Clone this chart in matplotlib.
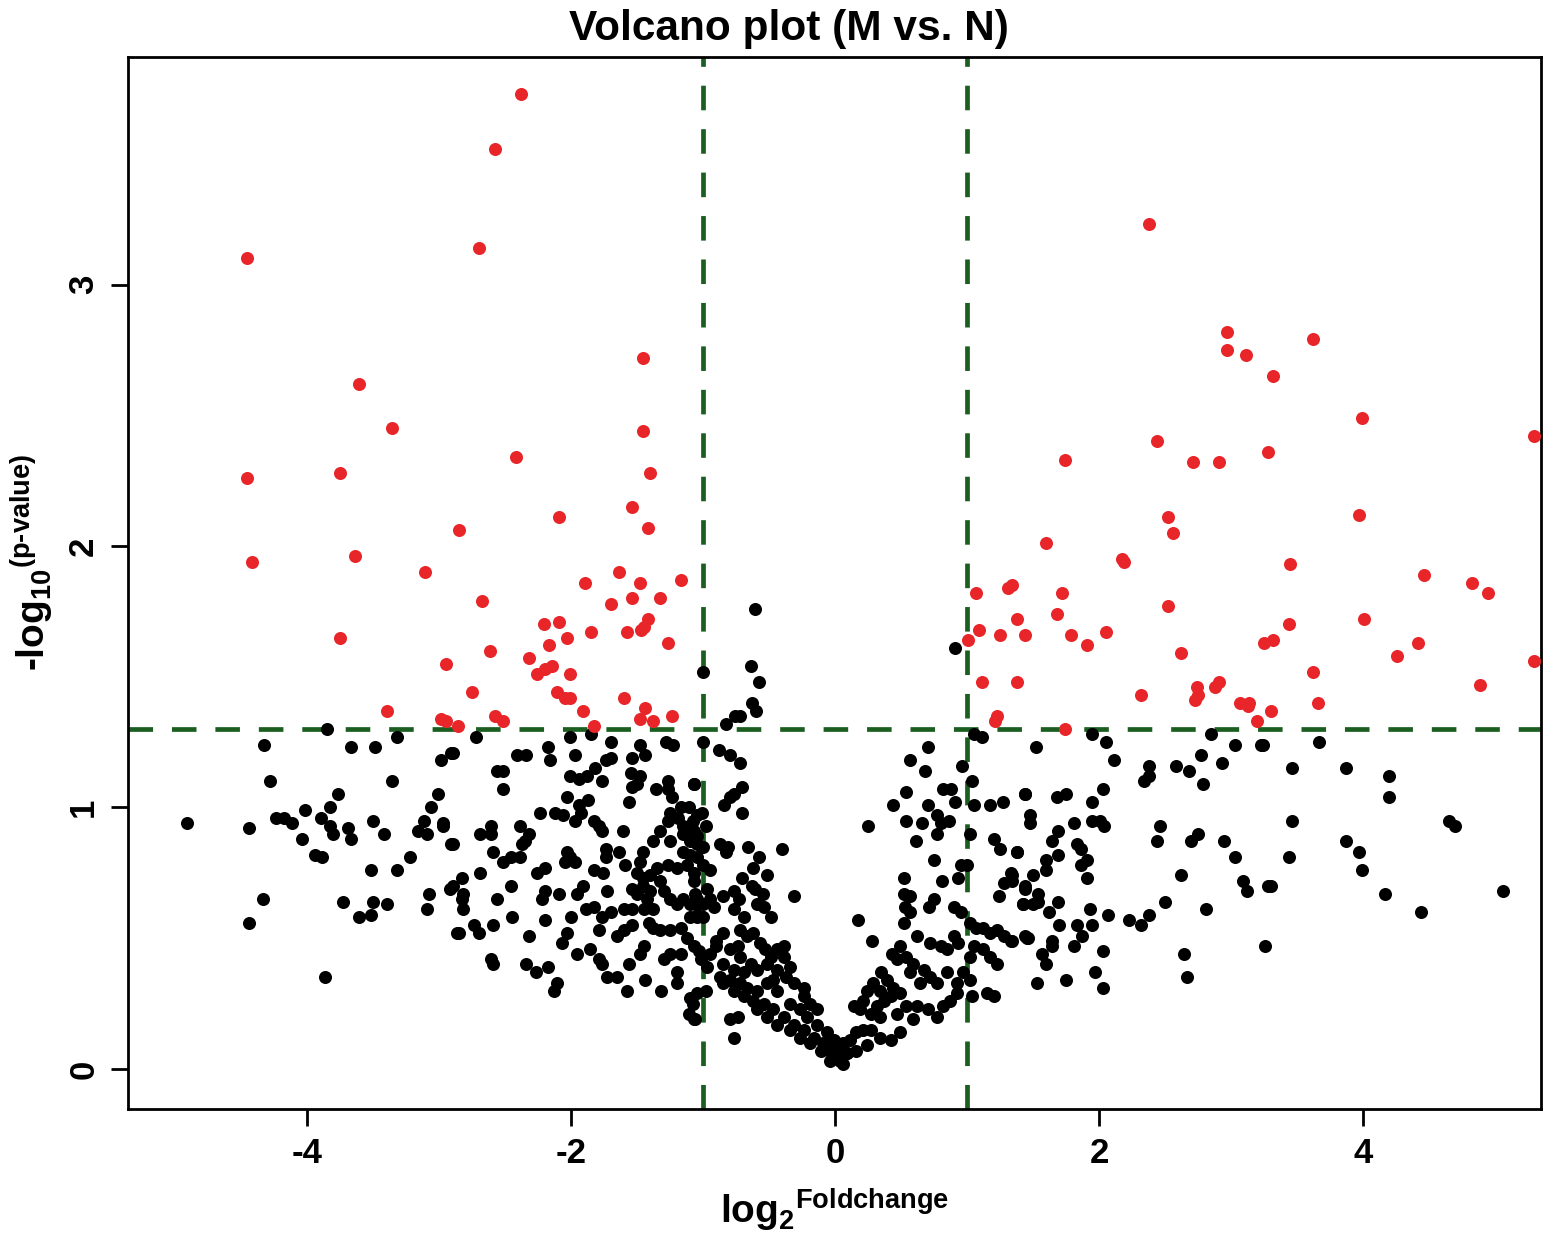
import matplotlib
matplotlib.use("Agg")
from matplotlib import pyplot as plt

plt.rcParams['font.family'] = ['Liberation Sans', 'DejaVu Sans']
plt.rcParams['axes.unicode_minus'] = False
plt.rcParams['mathtext.fontset'] = 'custom'
plt.rcParams['mathtext.rm'] = 'Liberation Sans:bold'
plt.rcParams['mathtext.bf'] = 'Liberation Sans:bold'

# thresholds
FC_CUT = 1.0
P_CUT = 1.301

# significant, down-regulated (log2FC, -log10 p)
down_pts = [
    (-2.38, 3.73), (-2.58, 3.52), (-2.70, 3.14), (-4.46, 3.10), (-1.46, 2.72),
    (-3.61, 2.62), (-3.36, 2.45), (-1.46, 2.44), (-2.42, 2.34), (-4.46, 2.26),
    (-3.75, 2.28), (-1.40, 2.28), (-1.54, 2.15), (-2.09, 2.11), (-2.85, 2.06),
    (-1.42, 2.07), (-4.42, 1.94), (-3.64, 1.96), (-3.11, 1.90), (-1.64, 1.90),
    (-1.17, 1.87), (-1.90, 1.86), (-1.48, 1.86), (-1.54, 1.80), (-1.33, 1.80),
    (-2.68, 1.79), (-1.70, 1.78), (-2.21, 1.70), (-2.09, 1.71), (-1.42, 1.72),
    (-1.45, 1.69), (-1.47, 1.68), (-1.85, 1.67), (-1.58, 1.67), (-3.75, 1.65),
    (-2.03, 1.65), (-2.17, 1.62), (-1.27, 1.63), (-2.62, 1.60), (-2.32, 1.57),
    (-2.95, 1.55), (-2.15, 1.54), (-2.20, 1.53), (-2.26, 1.51), (-2.01, 1.51),
    (-2.75, 1.44), (-2.11, 1.44), (-2.05, 1.42), (-2.01, 1.42), (-1.60, 1.42),
    (-3.40, 1.37), (-1.91, 1.37), (-1.44, 1.38), (-1.24, 1.35), (-2.99, 1.34),
    (-2.95, 1.33), (-2.58, 1.35), (-2.52, 1.33), (-1.48, 1.34), (-1.38, 1.33),
    (-2.86, 1.31), (-1.83, 1.31),
]

# significant, up-regulated
up_pts = [
    (2.38, 3.23), (2.97, 2.82), (2.97, 2.75), (3.11, 2.73), (3.62, 2.79),
    (3.32, 2.65), (3.99, 2.49), (5.30, 2.42), (2.44, 2.40), (1.74, 2.33),
    (2.71, 2.32), (2.91, 2.32), (3.28, 2.36), (3.97, 2.12), (2.52, 2.11),
    (2.56, 2.05), (1.60, 2.01), (2.17, 1.95), (2.19, 1.94), (3.45, 1.93),
    (4.46, 1.89), (4.83, 1.86), (4.95, 1.82), (1.07, 1.82), (1.31, 1.84),
    (1.34, 1.85), (1.72, 1.82), (1.38, 1.72), (1.68, 1.74), (2.52, 1.77),
    (4.01, 1.72), (1.09, 1.68), (1.25, 1.66), (1.44, 1.66), (1.79, 1.66),
    (1.91, 1.62), (2.05, 1.67), (3.44, 1.70), (3.25, 1.63), (3.32, 1.64),
    (1.01, 1.64), (2.62, 1.59), (4.42, 1.63), (4.26, 1.58), (5.30, 1.56),
    (3.62, 1.52), (1.11, 1.48), (1.38, 1.48), (4.89, 1.47), (2.91, 1.48),
    (2.88, 1.46), (2.74, 1.46), (2.75, 1.43), (2.73, 1.41), (2.32, 1.43),
    (3.07, 1.40), (3.14, 1.40), (3.13, 1.39), (3.30, 1.37), (3.66, 1.40),
    (1.23, 1.35), (1.21, 1.33), (3.20, 1.33), (1.74, 1.30),
]

# not significant
ns_pts = [
    # far left
    (-3.85, 1.30), (-4.33, 1.24), (-3.67, 1.23), (-3.49, 1.23), (-3.32, 1.27),
    (-2.91, 1.21), (-2.99, 1.18), (-4.28, 1.10), (-3.36, 1.10), (-3.77, 1.05),
    (-3.01, 1.05), (-3.83, 1.00), (-3.06, 1.00), (-4.02, 0.99), (-4.91, 0.94),
    (-4.44, 0.92), (-4.24, 0.96), (-4.18, 0.96), (-4.12, 0.94), (-3.90, 0.96),
    (-3.83, 0.93), (-3.81, 0.90), (-3.69, 0.92), (-3.67, 0.88), (-4.04, 0.88),
    (-3.50, 0.95), (-3.42, 0.90), (-3.12, 0.95), (-3.16, 0.91), (-3.09, 0.90),
    (-2.97, 0.94), (-2.97, 0.93), (-2.91, 0.86), (-3.94, 0.82), (-3.89, 0.81),
    (-3.22, 0.81), (-3.52, 0.76), (-3.32, 0.76), (-2.92, 0.69), (-3.08, 0.67),
    (-4.34, 0.65), (-3.73, 0.64), (-3.50, 0.64), (-3.40, 0.63), (-3.09, 0.61),
    (-3.61, 0.58), (-3.52, 0.59), (-4.44, 0.56), (-2.87, 0.52), (-3.87, 0.35),
    # left middle
    (-2.72, 1.27), (-2.90, 1.21), (-2.41, 1.20), (-2.34, 1.20), (-2.18, 1.23),
    (-2.16, 1.18), (-2.01, 1.27), (-1.85, 1.28), (-1.97, 1.20), (-1.70, 1.25),
    (-1.74, 1.18), (-1.70, 1.19), (-1.48, 1.24), (-1.44, 1.20), (-1.54, 1.19),
    (-1.28, 1.25), (-1.23, 1.24), (-2.56, 1.14), (-2.52, 1.14), (-2.52, 1.07),
    (-2.01, 1.12), (-1.94, 1.11), (-1.88, 1.12), (-1.82, 1.15), (-1.77, 1.10),
    (-1.55, 1.13), (-1.48, 1.12), (-1.54, 1.08), (-1.50, 1.09), (-1.36, 1.07),
    (-1.27, 1.10), (-1.27, 1.07), (-1.07, 1.09), (-1.56, 1.02), (-1.24, 1.04),
    (-2.03, 1.04), (-1.87, 1.03), (-1.94, 1.01), (-2.24, 0.98), (-2.12, 0.98),
    (-2.06, 0.97), (-1.97, 0.95), (-1.93, 0.98), (-1.83, 0.95), (-1.79, 0.93),
    (-1.77, 0.91), (-1.61, 0.91), (-1.25, 0.98), (-1.17, 1.00), (-1.11, 1.00),
    (-1.27, 0.95), (-1.19, 0.96), (-1.15, 0.93), (-1.05, 0.97), (-2.69, 0.90),
    (-2.61, 0.93), (-2.61, 0.90), (-2.39, 0.93), (-2.32, 0.90), (-2.35, 0.87),
    (-2.37, 0.86), (-2.90, 0.86), (-1.38, 0.87), (-1.33, 0.91), (-1.25, 0.87),
    (-1.15, 0.90), (-1.10, 0.87), (-1.05, 0.86), (-1.15, 0.83), (-1.10, 0.82),
    (-1.05, 0.81), (-2.59, 0.83), (-2.52, 0.79), (-2.46, 0.81), (-2.39, 0.81),
    (-2.03, 0.83), (-2.01, 0.81), (-1.97, 0.79), (-2.05, 0.79), (-1.74, 0.84),
    (-1.74, 0.81), (-1.64, 0.83), (-1.59, 0.78), (-1.46, 0.83), (-1.48, 0.79),
    (-1.50, 0.75), (-1.46, 0.73), (-1.40, 0.74), (-1.35, 0.77), (-1.27, 0.78),
    (-1.20, 0.77), (-1.12, 0.78), (-1.07, 0.75), (-1.00, 0.78), (-2.69, 0.75),
    (-2.26, 0.75), (-2.20, 0.77), (-1.83, 0.76), (-1.76, 0.75), (-2.83, 0.73),
    (-2.90, 0.70), (-2.82, 0.67), (-2.83, 0.65), (-2.46, 0.70), (-2.56, 0.65),
    (-2.20, 0.68), (-2.22, 0.65), (-2.09, 0.67), (-1.96, 0.67), (-1.91, 0.70),
    (-1.73, 0.68), (-1.54, 0.69), (-1.50, 0.67), (-1.46, 0.70), (-1.43, 0.65),
    (-1.40, 0.68), (-1.33, 0.72), (-1.30, 0.68), (-1.25, 0.65), (-1.20, 0.63),
    (-1.15, 0.65), (-1.10, 0.63), (-1.05, 0.65), (-1.00, 0.63), (-2.82, 0.61),
    (-1.89, 0.61), (-1.83, 0.62), (-1.60, 0.61), (-1.54, 0.61), (-1.45, 0.61),
    (-1.38, 0.61), (-1.05, 0.59), (-1.00, 0.58), (-2.45, 0.58), (-2.20, 0.57),
    (-2.00, 0.58), (-1.77, 0.58), (-1.70, 0.60), (-1.41, 0.56), (-1.38, 0.54),
    (-1.33, 0.53), (-1.25, 0.53), (-1.17, 0.54), (-2.74, 0.55), (-2.70, 0.52),
    (-2.85, 0.52), (-2.59, 0.55), (-2.32, 0.51), (-2.03, 0.52), (-2.07, 0.48),
    (-1.79, 0.53), (-1.65, 0.51), (-1.60, 0.53), (-1.54, 0.55), (-1.12, 0.50),
    (-1.07, 0.47), (-1.03, 0.45), (-1.45, 0.47), (-1.48, 0.44), (-1.25, 0.44),
    (-1.17, 0.44), (-1.30, 0.42), (-1.96, 0.44), (-1.86, 0.46), (-1.79, 0.42),
    (-1.77, 0.40), (-2.61, 0.42), (-2.59, 0.40), (-2.34, 0.40), (-2.27, 0.37),
    (-2.18, 0.39), (-1.56, 0.40), (-1.20, 0.37), (-1.20, 0.33), (-1.73, 0.35),
    (-1.65, 0.35), (-1.44, 0.34), (-2.11, 0.33), (-2.13, 0.30), (-1.58, 0.30),
    (-1.32, 0.30), (-1.10, 0.27), (-1.11, 0.21), (-1.06, 0.19), (-0.98, 0.30),
    # near centre, left arm
    (-0.61, 1.76), (-0.64, 1.54), (-0.58, 1.48), (-0.63, 1.40), (-0.60, 1.37),
    (-0.72, 1.35), (-0.76, 1.35), (-0.83, 1.32), (-1.00, 1.52), (-1.00, 1.25),
    (-0.88, 1.22), (-0.80, 1.20), (-0.72, 1.17), (-1.07, 1.09), (-0.71, 1.08),
    (-0.77, 1.05), (-0.80, 1.04), (-0.84, 1.01), (-0.71, 0.98), (-1.01, 0.98),
    (-0.98, 0.93), (-1.08, 0.95), (-1.07, 0.91), (-1.10, 0.88), (-1.05, 0.89),
    (-1.00, 0.85), (-0.87, 0.86), (-0.81, 0.85), (-0.83, 0.83), (-0.66, 0.85),
    (-0.40, 0.84), (-0.58, 0.81), (-0.62, 0.77), (-0.52, 0.74), (-0.71, 0.73),
    (-0.63, 0.70), (-0.61, 0.69), (-0.55, 0.67), (-0.95, 0.76), (-0.31, 0.66),
    (-1.07, 0.72), (-1.06, 0.67), (-1.05, 0.63), (-0.97, 0.69), (-0.95, 0.65),
    (-0.92, 0.62), (-1.10, 0.58), (-1.05, 0.58), (-0.85, 0.66), (-0.77, 0.68),
    (-0.73, 0.65), (-0.77, 0.61), (-0.59, 0.63), (-0.54, 0.62), (-0.49, 0.58),
    (-0.69, 0.58), (-0.72, 0.53), (-0.67, 0.51), (-0.74, 0.47), (-0.62, 0.52),
    (-0.57, 0.48), (-0.53, 0.46), (-0.49, 0.43), (-0.44, 0.46), (-0.39, 0.47),
    (-0.39, 0.43), (-0.34, 0.39), (-0.37, 0.35), (-0.31, 0.33), (-0.24, 0.31),
    (-0.24, 0.28), (-0.19, 0.25), (-0.14, 0.23), (-0.90, 0.47), (-0.95, 0.44),
    (-1.02, 0.42), (-0.97, 0.39), (-0.87, 0.35), (-0.80, 0.34), (-0.72, 0.33),
    (-0.67, 0.31), (-0.59, 0.30), (-0.85, 0.33), (-0.77, 0.30), (-0.69, 0.28),
    (-0.62, 0.26), (-0.54, 0.25), (-0.47, 0.23), (-0.39, 0.20), (-0.31, 0.17),
    (-0.24, 0.15), (-0.16, 0.12), (-0.09, 0.10), (-0.04, 0.07), (0.01, 0.05),
    (0.06, 0.02), (-0.77, 0.12), (-0.80, 0.19), (-0.74, 0.20), (-1.05, 0.29),
    (-1.08, 0.25), (-1.07, 0.19), (-0.52, 0.33), (-0.44, 0.30), (-0.34, 0.25),
    (-0.27, 0.23), (-0.21, 0.20), (-0.14, 0.17), (-0.06, 0.14), (-0.01, 0.11),
    (0.04, 0.09), (0.09, 0.06), (-0.59, 0.23), (-0.52, 0.20), (-0.44, 0.17),
    (-0.34, 0.15), (-0.27, 0.12), (-0.19, 0.10), (-0.11, 0.07), (-0.04, 0.03),
    (-0.85, 0.52), (-0.90, 0.49), (-0.80, 0.46), (-0.72, 0.43), (-0.64, 0.40),
    (-0.59, 0.38), (-0.85, 0.40), (-0.77, 0.38), (-0.69, 0.37), (-0.47, 0.34),
    (-0.44, 0.38), (-0.52, 0.40),
    # near centre, right arm
    (0.91, 1.61), (1.05, 1.28), (1.11, 1.27), (0.70, 1.23), (0.57, 1.18),
    (0.68, 1.14), (0.96, 1.16), (1.04, 1.10), (0.54, 1.06), (0.82, 1.07),
    (0.88, 1.07), (0.44, 1.01), (0.70, 1.01), (0.91, 1.02), (1.05, 1.01),
    (1.17, 1.01), (1.27, 1.02), (1.44, 1.05), (0.25, 0.93), (0.54, 0.95),
    (0.66, 0.94), (0.77, 0.97), (0.80, 0.94), (0.86, 0.95), (0.77, 0.90),
    (1.02, 0.90), (0.61, 0.87), (1.20, 0.88), (1.25, 0.84), (1.38, 0.83),
    (0.75, 0.80), (0.95, 0.78), (1.00, 0.78), (0.93, 0.73), (0.52, 0.73),
    (0.81, 0.72), (1.33, 0.75), (1.28, 0.71), (1.24, 0.66), (1.44, 0.70),
    (0.52, 0.67), (0.57, 0.66), (0.53, 0.62), (0.57, 0.60), (0.52, 0.56),
    (0.75, 0.65), (0.71, 0.62), (0.90, 0.62), (0.95, 0.60), (1.42, 0.63),
    (0.17, 0.57), (1.02, 0.56), (1.07, 0.54), (1.12, 0.54), (1.17, 0.52),
    (1.23, 0.53), (1.28, 0.51), (1.33, 0.49), (1.45, 0.50), (0.90, 0.51),
    (0.93, 0.48), (1.05, 0.47), (1.12, 0.46), (1.17, 0.43), (1.02, 0.43),
    (0.28, 0.49), (0.62, 0.51), (0.72, 0.48), (0.80, 0.47), (0.85, 0.46),
    (0.49, 0.47), (0.43, 0.44), (0.47, 0.42), (0.54, 0.43), (0.59, 0.40),
    (0.67, 0.38), (0.72, 0.35), (0.77, 0.33), (0.64, 0.33), (0.57, 0.37),
    (0.85, 0.37), (0.92, 0.33), (1.04, 0.28), (1.20, 0.28), (1.23, 0.40),
    (0.97, 0.37), (0.35, 0.37), (0.39, 0.34), (0.44, 0.31), (0.49, 0.29),
    (0.42, 0.28), (0.34, 0.30), (0.29, 0.33), (0.24, 0.30), (0.21, 0.26),
    (0.14, 0.24), (0.19, 0.23), (0.27, 0.21), (0.34, 0.20), (0.47, 0.21),
    (0.54, 0.24), (0.62, 0.24), (0.70, 0.23), (0.77, 0.20), (0.82, 0.24),
    (0.87, 0.26), (0.92, 0.29), (0.59, 0.19), (0.49, 0.14), (0.42, 0.11),
    (0.34, 0.12), (0.27, 0.15), (0.21, 0.15), (0.16, 0.14), (0.11, 0.11),
    (0.06, 0.10), (0.01, 0.07), (-0.01, 0.05), (0.04, 0.03), (0.09, 0.06),
    (0.16, 0.07), (0.24, 0.09), (0.37, 0.26), (0.32, 0.24), (1.15, 0.29),
    (1.02, 0.34), (1.44, 0.51),
    # right middle
    (1.95, 1.28), (2.05, 1.25), (1.52, 1.23), (2.11, 1.18), (2.38, 1.16),
    (2.38, 1.12), (2.34, 1.10), (2.58, 1.16), (2.68, 1.14), (2.79, 1.09),
    (2.77, 1.20), (2.85, 1.28), (2.93, 1.17), (3.03, 1.24), (3.23, 1.24),
    (1.44, 1.05), (1.68, 1.04), (1.75, 1.05), (1.95, 1.02), (2.03, 1.07),
    (1.48, 0.97), (1.48, 0.94), (1.81, 0.94), (1.95, 0.95), (2.01, 0.95),
    (2.04, 0.93), (2.46, 0.93), (2.44, 0.87), (2.75, 0.90), (2.70, 0.87),
    (2.95, 0.87), (3.03, 0.81), (1.69, 0.91), (1.64, 0.87), (1.69, 0.82),
    (1.83, 0.86), (1.86, 0.84), (1.91, 0.80), (1.86, 0.78), (1.91, 0.73),
    (1.38, 0.83), (1.60, 0.80), (1.60, 0.76), (1.50, 0.74), (1.34, 0.74),
    (1.34, 0.72), (1.44, 0.69), (1.54, 0.67), (1.54, 0.64), (1.42, 0.63),
    (1.50, 0.63), (2.62, 0.74), (3.09, 0.72), (3.12, 0.68), (3.28, 0.70),
    (1.69, 0.64), (1.62, 0.60), (1.93, 0.61), (1.70, 0.55), (1.83, 0.55),
    (1.95, 0.55), (1.87, 0.51), (1.81, 0.47), (2.07, 0.59), (2.23, 0.57),
    (2.32, 0.55), (2.38, 0.59), (2.50, 0.64), (2.81, 0.61), (1.34, 0.49),
    (1.46, 0.50), (1.64, 0.49), (1.64, 0.47), (1.57, 0.44), (1.60, 0.40),
    (2.03, 0.45), (2.64, 0.44), (3.26, 0.47), (1.53, 0.33), (1.75, 0.34),
    (1.97, 0.37), (2.03, 0.31), (2.67, 0.35),
    # far right
    (3.24, 1.24), (3.67, 1.25), (3.46, 1.15), (3.87, 1.15), (4.20, 1.12),
    (4.20, 1.04), (3.46, 0.95), (4.65, 0.95), (4.70, 0.93), (3.87, 0.87),
    (3.97, 0.83), (3.99, 0.76), (3.44, 0.81), (3.30, 0.70), (4.17, 0.67),
    (5.06, 0.68), (4.44, 0.60),
]

down_x = [p[0] for p in down_pts]
down_y = [p[1] for p in down_pts]
up_x = [p[0] for p in up_pts]
up_y = [p[1] for p in up_pts]
ns_x = [p[0] for p in ns_pts]
ns_y = [p[1] for p in ns_pts]

fig = plt.figure(figsize=(15.59, 12.41), dpi=100)
ax = fig.add_axes([0.0821, 0.1064, 0.9064, 0.8476])

mk = dict(marker='o', s=88, linewidths=0, zorder=3)
ax.scatter(ns_x, ns_y, color='black', **mk)
ax.scatter(down_x, down_y, color='#E8262A', **mk)
ax.scatter(up_x, up_y, color='#E8262A', **mk)

line_kw = dict(color='#1B5E20', linewidth=3.4, dashes=(5.2, 4.0), zorder=2)
ax.axvline(-FC_CUT, **line_kw)
ax.axvline(FC_CUT, **line_kw)
ax.axhline(P_CUT, **line_kw)

ax.set_xlim(-5.36, 5.35)
ax.set_ylim(-0.153, 3.87)
ax.set_xticks([-4, -2, 0, 2, 4])
ax.set_yticks([0, 1, 2, 3])
ax.tick_params(axis='both', direction='out', length=12, width=2, labelsize=25, pad=8)
for lab in ax.get_xticklabels():
    lab.set_fontweight('bold')
for lab in ax.get_yticklabels():
    lab.set_fontweight('bold')
    lab.set_rotation(90)
    lab.set_verticalalignment('center')
for sp in ax.spines.values():
    sp.set_linewidth(2)

fig.text(0.506, 0.977, "Volcano plot (M vs. N)", fontsize=30.5, fontweight='bold',
         ha='center', va='center')
ax.set_xlabel(r'${\text{log}_{2}}^{\text{Foldchange}}$', fontsize=28, labelpad=12)
ax.set_ylabel(r'${\text{-log}_{10}}^{\text{(p-value)}}$', fontsize=28)
ax.yaxis.set_label_coords(-0.051, 0.52)

fig.savefig("out.png", dpi=100)
